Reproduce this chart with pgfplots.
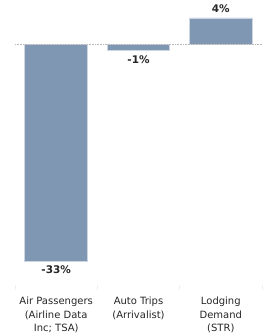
\documentclass[border=0pt]{standalone}
\usepackage{fontspec}
\setmainfont{DejaVu Sans}
\usepackage{pgfplots}
\pgfplotsset{compat=1.18}
\definecolor{barblue}{RGB}{127,151,179}
\definecolor{baredge}{RGB}{205,214,225}
\begin{document}
\begin{tikzpicture}
\begin{axis}[
  at={(0,0)}, anchor=south west,
  scale only axis, width=247pt, height=288pt,
  xmin=-0.5, xmax=2.5, ymin=-37.1, ymax=6.74,
  axis lines=none,
  clip=false,
  ybar, bar width=62.7pt,
  xtick=\empty, ytick=\empty,
  nodes near coords={\pgfmathprintnumber[assume math mode=true]{\pgfplotspointmeta}\%},
  nodes near coords align={vertical},
  every node near coord/.append style={font=\fontsize{10.5}{12}\selectfont\bfseries, text=black!85, inner sep=4.5pt},
]
\addplot[fill=barblue, draw=baredge, line width=0.8pt] coordinates {(0,-33) (1,-1) (2,4)};
\draw[densely dotted, gray!55, line width=0.6pt] (axis cs:-0.5,0) -- (axis cs:2.5,0);
\end{axis}
\foreach \i/\lab in {0/{Air Passengers\\(Airline Data\\Inc; TSA)},1/{Auto Trips\\(Arrivalist)},2/{Lodging\\Demand\\(STR)}}{
  \node[anchor=north, align=center, font=\fontsize{10}{13.5}\selectfont, text=black!85, inner sep=0pt] at ({41.17pt+\i*82.33pt},-9pt) {\lab};
}
\foreach \i in {0,1,2,3}{
  \draw[gray!12, line width=0.6pt] ({\i*82.33pt},3pt) -- ({\i*82.33pt},-2pt);
}
\useasboundingbox (-15pt,-48pt) rectangle (252pt,288pt);
\end{tikzpicture}
\end{document}
